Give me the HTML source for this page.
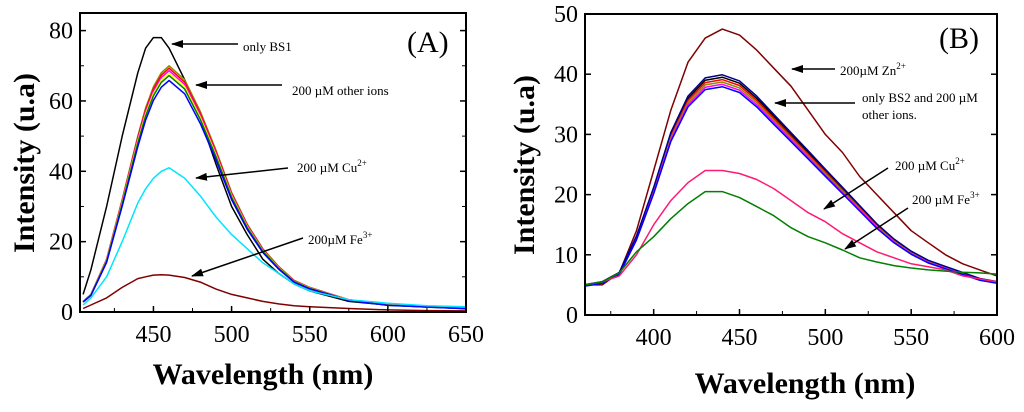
<!DOCTYPE html>
<html><head><meta charset="utf-8"><style>
html,body{margin:0;padding:0;background:#fff;}
svg{display:block;font-family:"Liberation Serif",serif;}
</style></head><body>
<svg id="fig" width="1024" height="412" viewBox="0 0 1024 412" xmlns="http://www.w3.org/2000/svg">
<defs><marker id="ah" markerWidth="12" markerHeight="8" refX="11" refY="4" orient="auto" markerUnits="userSpaceOnUse"><path d="M0,0 L12,4 L0,8 z" fill="#000"/></marker></defs>
<g id="pa"></g>
<g id="pb"></g>
</svg>
<script>
// ---------- Panel A data ----------
const aX = [405,410,420,430,440,445,450,455,460,470,480,490,500,510,520,530,540,550,575,600,625,650];
const aBS1 = [5,12,30,50,68,75,78,78,75,66,55,42,30,22,15,11,8,6,3,2,1.4,1];
const aOther = [3,5,15,32,50,58,64,68,70,66,57,46,34,25,18,13,9,7,3.5,2,1.5,1];
const aOtherScale = [1.0,0.99,0.98,0.97,0.96,0.94];
const aOtherColors = ["#8b8b00","#ff0000","#ff00ff","#ffff00","#008000","#0000ff"];
const aCu = [2,4,10,20,31,35,38,40,41,38,33,27,22,18,14,11,8,6,3.5,2.5,1.8,1.5];
const aFe = [1,2,4,7,9.5,10,10.5,10.6,10.5,9.8,8.5,6.5,5,4,3,2.3,1.8,1.5,1,0.6,0.4,0.3];
const aXTicks = [450,500,550,600,650];
const aYTicks = [0,20,40,60,80];
// ---------- Panel B data ----------
const bX = [360,370,380,390,400,410,420,430,440,450,460,470,480,490,500,510,520,530,540,550,560,570,580,590,600];
const bZn = [5,5,7,14,24,34,42,46,47.5,46.5,44,41,38,34,30,27,23,20,17,14,12,10,8.5,7.5,6.5];
const bOther = [5,5.5,7,13,21,30,36,39,39.5,38.5,36,33,30,27,24,21,18,15,12.5,10.5,9,8,7,6,5.5];
const bOtherScale = [1.0,0.99,0.98,0.97,1.01,0.96];
const bOtherColors = ["#000000","#ff0000","#8b8b00","#ff00ff","#00008b","#0000ff"];
const bCu = [5,5.5,6.5,10,15,19,22,24,24,23.5,22.5,21,19,17,15.5,13.5,12,10.5,9.5,8.5,8,7.5,6.5,6,5.5];
const bFe = [5,5.5,7,10.5,13,16,18.5,20.5,20.5,19.5,18,16.5,14.5,13,12,10.8,9.5,8.8,8.2,7.8,7.5,7.3,7.1,7,6.8];
const bXTicks = [400,450,500,550,600];
const bYTicks = [0,10,20,30,40,50];

const NS="http://www.w3.org/2000/svg";
function mk(parent,tag,attrs,text){const e=document.createElementNS(NS,tag);for(const k in attrs)e.setAttribute(k,attrs[k]);if(text!==undefined)e.textContent=text;parent.appendChild(e);return e;}

function panel(g,cfg){
  const sx=v=>cfg.x0+(v-cfg.xmin)/(cfg.xmax-cfg.xmin)*(cfg.x1-cfg.x0);
  const sy=v=>cfg.y1-(v-cfg.ymin)/(cfg.ymax-cfg.ymin)*(cfg.y1-cfg.y0);
  const line=(xs,ys,col,name,w)=>{
    const p=mk(g,"polyline",{points:xs.map((x,i)=>sx(x).toFixed(1)+","+sy(ys[i]).toFixed(1)).join(" "),fill:"none",stroke:col,"stroke-width":w||1.5,"stroke-linejoin":"round"});
    
    
  };
  cfg.series(line);
  const fr=mk(g,"rect",{x:cfg.x0,y:cfg.y0,width:cfg.x1-cfg.x0,height:cfg.y1-cfg.y0,fill:"none",stroke:"#000","stroke-width":2});
  
  
  cfg.xticks.forEach(t=>{
    const x=sx(t);
    mk(g,"line",{x1:x,y1:cfg.y1,x2:x,y2:cfg.y1-6,stroke:"#000","stroke-width":1.5});
    const tl=mk(g,"text",{x:x,y:cfg.y1+30,"font-size":24,"text-anchor":"middle"},t);
    
    
  });
  for(let t=cfg.xmin;t<=cfg.xmax;t+=cfg.xminor){const v=Math.ceil(t/cfg.xminor)*cfg.xminor;const x=sx(v);if(v>cfg.xmin&&v<cfg.xmax)mk(g,"line",{x1:x,y1:cfg.y1,x2:x,y2:cfg.y1-4,stroke:"#000","stroke-width":1});}
  cfg.yticks.forEach(t=>{
    const y=sy(t);
    mk(g,"line",{x1:cfg.x0,y1:y,x2:cfg.x0+6,y2:y,stroke:"#000","stroke-width":1.5});
    mk(g,"line",{x1:cfg.x1,y1:y,x2:cfg.x1-6,y2:y,stroke:"#000","stroke-width":1.5});
    const tl=mk(g,"text",{x:cfg.x0-7,y:y+8,"font-size":24,"text-anchor":"end"},t);
    
    
  });
  for(let v=cfg.ymin+cfg.yminor;v<cfg.ymax;v+=cfg.yminor){const y=sy(v);mk(g,"line",{x1:cfg.x0,y1:y,x2:cfg.x0+4,y2:y,stroke:"#000"});mk(g,"line",{x1:cfg.x1,y1:y,x2:cfg.x1-4,y2:y,stroke:"#000"});}
  const xt=mk(g,"text",{x:cfg.xtx,y:cfg.xty,"font-size":30,"font-weight":"bold","text-anchor":"middle"},"Wavelength (nm)");
  
  
  const yt=mk(g,"text",{x:0,y:0,"font-size":30,"font-weight":"bold","text-anchor":"middle",transform:`translate(${cfg.ytx},${cfg.yty}) rotate(-90)`},"Intensity (u.a)");
  
  
}

const pa=document.getElementById("pa");
panel(pa,{x0:80,x1:466,y0:13,y1:312,xmin:403,xmax:650,ymin:0,ymax:85,xminor:25,yminor:10,
  xticks:aXTicks,yticks:aYTicks,xtx:263,xty:384,ytx:34,yty:163,
  series:(line)=>{
    line(aX,aBS1,"#000","series-only-bs1");
    aOtherScale.forEach((s,i)=>line(aX,aOther.map(v=>v*s),aOtherColors[i],"series-other-ion"));
    line(aX,aCu,"#00e5ff","series-cu");
    line(aX,aFe,"#800000","series-fe");
  }});
const pb=document.getElementById("pb");
panel(pb,{x0:585,x1:997,y0:14,y1:315,xmin:360,xmax:600,ymin:0,ymax:50,xminor:25,yminor:10,
  xticks:bXTicks,yticks:bYTicks,xtx:805,xty:393,ytx:534,yty:165,
  series:(line)=>{
    line(bX,bZn,"#800000","series-zn");
    bOtherScale.forEach((s,i)=>line(bX,bOther.map(v=>v*s),bOtherColors[i],"series-bs2-other-ion"));
    line(bX,bCu,"#ff1a75","series-cu");
    line(bX,bFe,"#008000","series-fe");
  }});

function note(g,lines,tx,ty,ax1,ay1,ax2,ay2,name){
  const a=mk(g,"line",{x1:ax1,y1:ay1,x2:ax2,y2:ay2,stroke:"#000","stroke-width":1.5,"marker-end":"url(#ah)"});
  
  
  const t=mk(g,"text",{x:tx,y:ty,"font-size":13});
  t.innerHTML=lines;
  
  
}
note(pa,"only BS1",243,51,238,44,172,44,"annotation-only-bs1");
note(pa,"200 µM other ions",292,95,282,85,196,85,"annotation-other-ions");
note(pa,"200 µM Cu<tspan font-size='9' dy='-6'>2+</tspan>",297,172,288,168,196,178,"annotation-cu");
note(pa,"200µM  Fe<tspan font-size='9' dy='-6'>3+</tspan>",308,244,303,238,192,276,"annotation-fe");
note(pb,"200µM Zn<tspan font-size='9' dy='-6'>2+</tspan>",840,75,835,69,792,69,"annotation-zn");
note(pb,"only BS2 and 200 µM",862,102,855,103,775,103,"annotation-bs2");
const t2=mk(pb,"text",{x:862,y:119,"font-size":13},"other ions.");


note(pb,"200 µM Cu<tspan font-size='9' dy='-6'>2+</tspan>",895,170,888,168,824,209,"annotation-cu");
note(pb,"200 µM Fe<tspan font-size='9' dy='-6'>3+</tspan>",912,204,908,208,845,249,"annotation-fe");
const la=mk(pa,"text",{x:407,y:52,"font-size":30},"(A)");


const lb=mk(pb,"text",{x:939,y:48,"font-size":30},"(B)");


</script>
</body></html>
